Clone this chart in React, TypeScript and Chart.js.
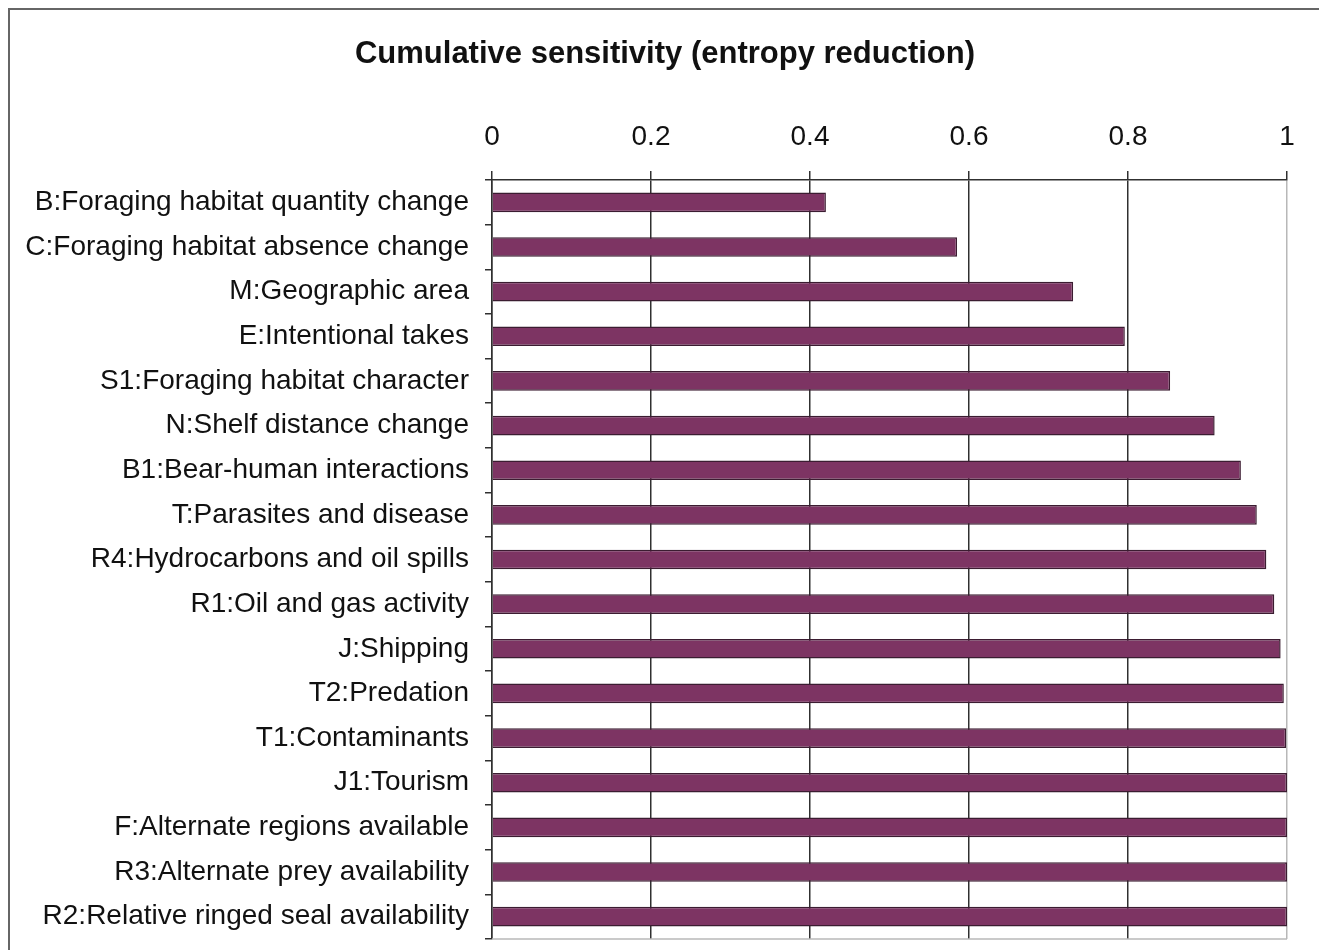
import React, { useEffect, useRef } from "react";
import { Chart, registerables } from "chart.js";

Chart.register(...registerables);

const chartTitle = "Cumulative sensitivity (entropy reduction)";

const categories = [
  "B:Foraging habitat quantity change",
  "C:Foraging habitat absence change",
  "M:Geographic area",
  "E:Intentional takes",
  "S1:Foraging habitat character",
  "N:Shelf distance change",
  "B1:Bear-human interactions",
  "T:Parasites and disease",
  "R4:Hydrocarbons and oil spills",
  "R1:Oil and gas activity",
  "J:Shipping",
  "T2:Predation",
  "T1:Contaminants",
  "J1:Tourism",
  "F:Alternate regions available",
  "R3:Alternate prey availability",
  "R2:Relative ringed seal availability",
];

const values = [
  0.42, 0.585, 0.731, 0.796, 0.853, 0.909, 0.942, 0.962, 0.974, 0.984, 0.992,
  0.996, 0.999, 1.0, 1.0, 1.0, 1.0,
];

const xTicks = [0, 0.2, 0.4, 0.6, 0.8, 1];

const FONT = "'Liberation Sans', Arial, sans-serif";
const TEXT = "#111111";
const LINE = "#303030";

const plotBorder = {
  id: "plotBorder",
  beforeDatasetsDraw(chart: any) {
    const { ctx, chartArea } = chart;
    ctx.save();
    ctx.strokeStyle = "#b8b8b8";
    ctx.lineWidth = 1.5;
    ctx.beginPath();
    ctx.moveTo(chartArea.left, chartArea.bottom);
    ctx.lineTo(chartArea.right, chartArea.bottom);
    ctx.stroke();
    ctx.restore();
  },
};

export default function App() {
  const ref = useRef<HTMLCanvasElement | null>(null);

  useEffect(() => {
    if (!ref.current) return;
    const chart = new Chart(ref.current, {
      type: "bar",
      data: {
        labels: categories,
        datasets: [
          {
            data: values,
            backgroundColor: "#7d3463",
            borderColor: "#3b1c31",
            borderWidth: 1.5,
            barPercentage: 0.44,
            categoryPercentage: 1,
          },
        ],
      },
      plugins: [plotBorder],
      options: {
        indexAxis: "y",
        animation: false,
        responsive: false,
        layout: { padding: { left: 0, right: 0, top: 0, bottom: 0 } },
        plugins: {
          legend: { display: false },
          tooltip: { enabled: false },
          title: {
            display: true,
            text: chartTitle,
            color: TEXT,
            font: { family: FONT, size: 31, weight: "bold", lineHeight: 1.2 },
            padding: { top: 26, bottom: 7 },
          },
        },
        scales: {
          x: {
            type: "linear",
            position: "top",
            min: 0,
            max: 1,
            afterBuildTicks: (scale: any) => {
              scale.ticks = xTicks.map((v) => ({ value: v }));
            },
            afterFit: (scale: any) => {
              scale.height = 99.8;
            },
            ticks: {
              color: TEXT,
              font: { family: FONT, size: 28, lineHeight: 1.2 },
              padding: 17,
              callback: (v: any) => String(Number(Number(v).toFixed(1))),
            },
            grid: {
              color: (ctx: any) =>
                ctx.tick && ctx.tick.value === 1 ? "#b8b8b8" : LINE,
              tickColor: LINE,
              tickLength: 9,
              lineWidth: 1.5,
            },
            border: { display: true, color: LINE, width: 1.5 },
          },
          y: {
            type: "category",
            afterFit: (scale: any) => {
              scale.width = 482;
            },
            ticks: {
              color: TEXT,
              font: { family: FONT, size: 28, lineHeight: 1.0 },
              padding: 16,
              autoSkip: false,
            },
            grid: {
              drawOnChartArea: false,
              offset: true,
              color: LINE,
              tickLength: 7,
              lineWidth: 1.5,
            },
            border: { display: true, color: LINE, width: 1.5 },
          },
          yRight: {
            type: "category",
            position: "right",
            labels: categories,
            afterFit: (scale: any) => {
              scale.width = 33;
            },
            ticks: { display: false },
            grid: { display: false, drawTicks: false },
            border: { display: false },
          },
        },
      },
    } as any);
    return () => chart.destroy();
  }, []);

  return (
    <div
      style={{
        width: 1310,
        height: 959,
        border: "2px solid #666",
        background: "#fff",
      }}
    >
      <canvas ref={ref} width={1310} height={959} style={{ display: "block" }} />
    </div>
  );
}
